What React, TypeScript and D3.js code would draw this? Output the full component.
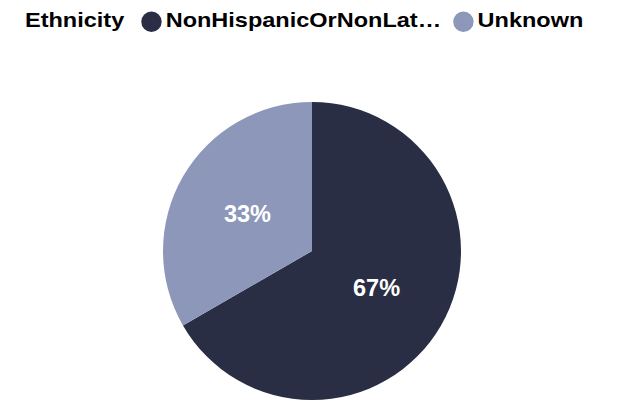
import React, { useEffect, useRef } from "react";
import * as d3 from "d3";

const legendTitle = "Ethnicity";
const categories = ["NonHispanicOrNonLatino", "Unknown"];
const values = [2, 1];
const colors = ["#292E45", "#8D97BA"];

const W = 618;
const H = 400;
const FONT = "'Liberation Sans', Arial, sans-serif";
const SX = 1.12; // horizontal stretch of legend text

export default function App() {
  const ref = useRef<SVGSVGElement | null>(null);

  useEffect(() => {
    document.body.style.margin = "0";
    const svg = d3.select(ref.current);
    svg.selectAll("*").remove();

    // Legend
    const lg = svg
      .append("g")
      .attr("font-family", FONT)
      .attr("font-weight", "bold")
      .attr("font-size", 21)
      .attr("fill", "#000");
    const baseY = 26.5;
    const dotY = 21.7;
    const dotR = 10.2;
    const addText = (x: number, s: string) =>
      lg.append("text").attr("transform", `translate(${x},${baseY}) scale(${SX},1)`).text(s);

    let x = 25;
    const t = addText(x, legendTitle);
    x += (t.node() as SVGTextElement).getComputedTextLength() * SX + 17;
    const maxLabel = 279;
    categories.forEach((c, i) => {
      lg.append("circle").attr("cx", x + dotR).attr("cy", dotY).attr("r", dotR).attr("fill", colors[i]);
      x += 2 * dotR + 4;
      const tx = addText(x, c);
      const node = tx.node() as SVGTextElement;
      if (node.getComputedTextLength() * SX > maxLabel) {
        let s = c;
        while (s.length > 1) {
          s = s.slice(0, -1);
          tx.text(s + "…");
          if (node.getComputedTextLength() * SX <= maxLabel) break;
        }
      }
      x += node.getComputedTextLength() * SX + 12;
    });

    // Pie
    const cx = 312, cy = 251, R = 149;
    const total = d3.sum(values);
    const pie = d3.pie<number>().sort(null).value((d) => d);
    const arcs = pie(values);
    const arc = d3.arc<d3.PieArcDatum<number>>().innerRadius(0).outerRadius(R);
    const g = svg.append("g").attr("transform", `translate(${cx},${cy})`);
    g.selectAll("path")
      .data(arcs)
      .join("path")
      .attr("d", arc)
      .attr("fill", (_, i) => colors[i]);
    g.selectAll("text")
      .data(arcs)
      .join("text")
      .attr("transform", (d) => `translate(${arc.centroid(d)})`)
      .attr("text-anchor", "middle")
      .attr("dominant-baseline", "central")
      .attr("font-family", FONT)
      .attr("font-weight", "bold")
      .attr("font-size", 23.5)
      .attr("fill", "#fff")
      .text((d) => `${Math.round((d.data / total) * 100)}%`);
  }, []);

  return <svg ref={ref} width={W} height={H} style={{ display: "block" }} />;
}
